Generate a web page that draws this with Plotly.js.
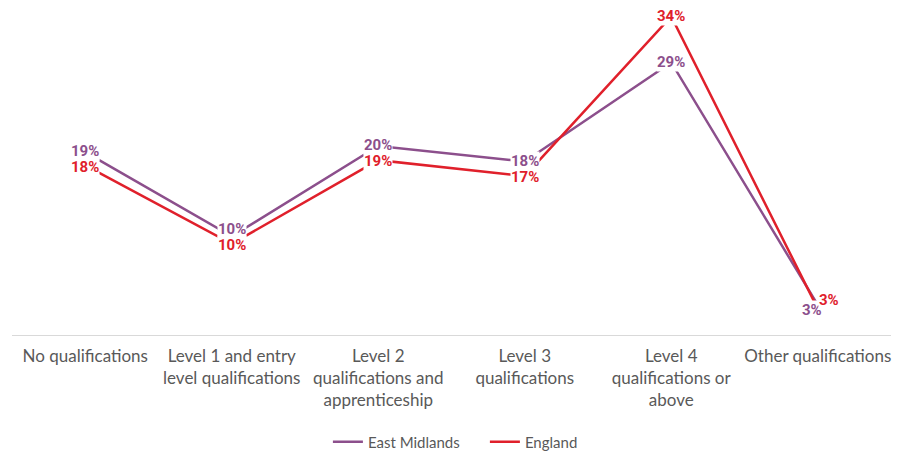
<!DOCTYPE html>
<html>
<head>
<meta charset="utf-8">
<script src="https://cdn.plot.ly/plotly-3.0.1.min.js"></script>
<style>html,body{margin:0;padding:0;background:#fff;}#chart{width:910px;height:451px;}</style>
</head>
<body>
<div id="chart"></div>
<script>
const categories = [
  "No qualifications",
  "Level 1 and entry<br>level qualifications",
  "Level 2<br>qualifications and<br>apprenticeship",
  "Level 3<br>qualifications",
  "Level 4<br>qualifications or<br>above",
  "Other qualifications"
];
const eastMidlands = [0.1945, 0.1049, 0.201, 0.1845, 0.290, 0.032];
const england = [0.1805, 0.097, 0.186, 0.169, 0.339, 0.028];
const seriesNames = ["East Midlands", "England"];
const seriesColors = ["#8C4F8C", "#E0202B"];

const allSeries = [eastMidlands, england];
const traces = allSeries.map((vals, i) => ({
  type: 'scatter', mode: 'lines', x: categories, y: vals,
  name: seriesNames[i],
  line: {color: seriesColors[i], width: 2.5},
  hoverinfo: 'skip'
}));

// label nudges (pixels) mirroring the manually placed labels of the original
const shifts = [
  [[0,1],[0,7],[0,1],[0,1],[0,0],[-6,-5]],
  [[0,-2],[0,-1],[0,-1],[0,-1],[0,0],[11,9]]
];
const annotations = [];
allSeries.forEach((vals, i) => {
  vals.forEach((v, j) => {
    annotations.push({
      x: categories[j], y: v, xref: 'x', yref: 'y',
      text: Math.round(v * 100) + '%',
      showarrow: false, bgcolor: 'rgba(255,255,255,1)', borderpad: 0,
      xshift: shifts[i][j][0], yshift: shifts[i][j][1],
      font: {family: 'Roboto, Liberation Sans, sans-serif', size: 15, color: seriesColors[i], weight: 'bold'}
    });
  });
});

const layout = {
  width: 910, height: 451,
  margin: {l: 12, r: 19, t: 6, b: 116, autoexpand: false},
  paper_bgcolor: '#fff', plot_bgcolor: '#fff',
  showlegend: true,
  legend: {orientation: 'h', x: 0.538, xanchor: 'center', y: -0.325, yanchor: 'middle',
    entrywidth: 112, entrywidthmode: 'pixels',
    font: {family: 'Lato, sans-serif', size: 15, color: '#595959'}, traceorder: 'normal'},
  xaxis: {
    type: 'category', showgrid: false, zeroline: false, automargin: false,
    showline: true, linecolor: '#D9D9D9', linewidth: 1.3,
    ticks: '', ticklabelstandoff: 5,
    tickfont: {family: 'Lato, sans-serif', size: 17, color: '#595959'},
    range: [-0.5, 5.5]
  },
  yaxis: {range: [0, 0.35], visible: false, showgrid: false, zeroline: false, automargin: false},
  annotations: annotations
};
Plotly.newPlot('chart', traces, layout, {displayModeBar: false, staticPlot: true});
</script>
</body>
</html>
